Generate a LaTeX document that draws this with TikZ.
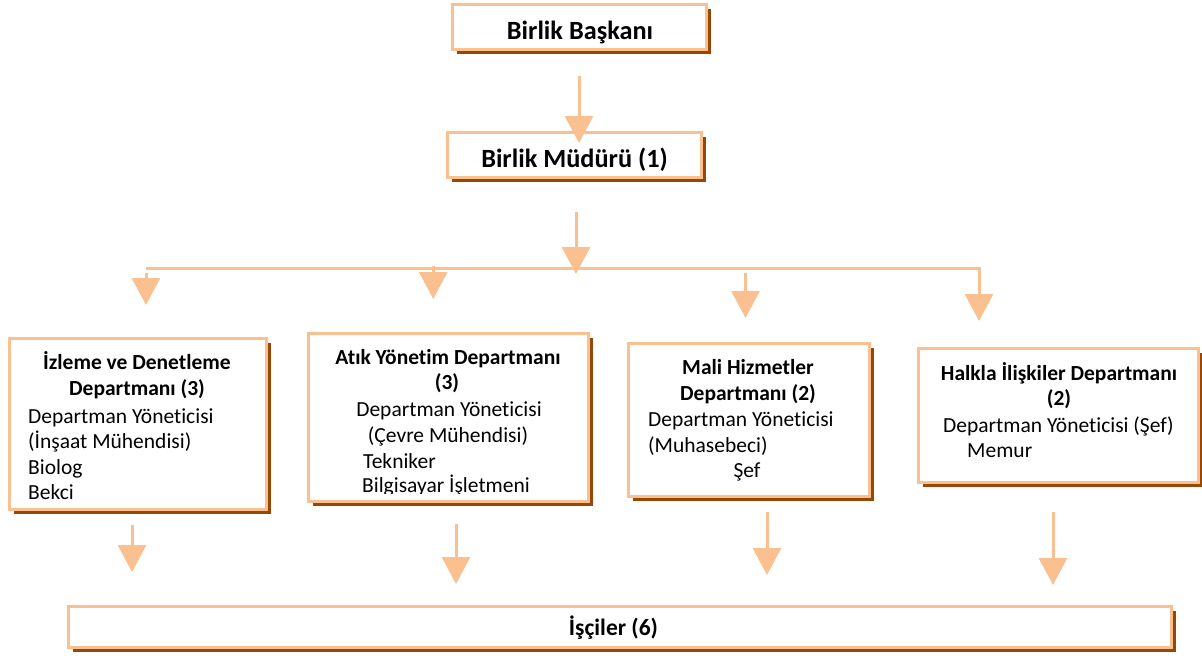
\documentclass[tikz,border=0pt]{standalone}
\usepackage{fontspec}
\setmainfont{Carlito}[Ligatures=NoCommon]
\usetikzlibrary{arrows.meta,shadows,calc}
\definecolor{peach}{HTML}{FAC090}
\definecolor{shbrown}{HTML}{984806}
\begin{document}
\begin{tikzpicture}[x=1pt, y=-1pt,
    box/.style={draw=peach, line width=3pt, fill=white, rectangle, inner sep=0pt, outer sep=0pt,
        general shadow={shadow xshift=4.5pt, shadow yshift=-4.5pt, fill=shbrown}},
    arr/.style={draw=peach, line width=3pt, -{Triangle[width=28pt, length=27pt]}},
    busline/.style={draw=peach, line width=3pt},
    headname/.style={font=\fontsize{26.3}{31}\selectfont\bfseries, inner sep=0pt, anchor=base},
    deptname/.style={font=\fontsize{21.5}{26}\selectfont\bfseries, inner sep=0pt, anchor=base},
    staff/.style={font=\fontsize{21.5}{26}\selectfont, inner sep=0pt, anchor=base west}]
    \useasboundingbox (0,0) rectangle (1202,659);

    % top of the chart
    \node[box, minimum width=254pt, minimum height=45pt] (baskan) at (579,26.5) {};
    \node[headname] at (580,39) {Birlik Başkanı};
    \node[box, minimum width=254pt, minimum height=45pt] (mudur) at (574,154.5) {};
    \node[headname] at (574.5,167) {Birlik Müdürü (1)};

    % departments
    \node[box, minimum width=257pt, minimum height=171pt] (izleme) at (137.5,423.5) {};
    \node[deptname] at (137,369) {İzleme ve Denetleme};
    \node[deptname] at (137,395) {Departmanı (3)};
    \node[staff] at (28,423) {Departman Yöneticisi};
    \node[staff] at (28,448) {(İnşaat Mühendisi)};
    \node[staff] at (28,474) {Biolog};
    \node[staff] at (28,499) {Bekci};

    \node[box, minimum width=280pt, minimum height=168pt] (atik) at (448,417) {};
    \node[deptname] at (448,364) {Atık Yönetim Departmanı};
    \node[deptname] at (447,389) {(3)};
    \node[staff, anchor=base] at (449,416) {Departman Yöneticisi};
    \node[staff, anchor=base] at (448,442) {(Çevre Mühendisi)};
    \node[staff] at (363,468) {Tekniker};
    \begin{scope}
        \clip (308,333) rectangle (588,493);
        \node[staff] at (362,492) {Bilgisayar İşletmeni};
    \end{scope}

    \node[box, minimum width=241pt, minimum height=153pt] (mali) at (748.5,419.5) {};
    \node[deptname] at (748,374) {Mali Hizmetler};
    \node[deptname] at (748,400) {Departmanı (2)};
    \node[staff] at (648,426) {Departman Yöneticisi};
    \node[staff] at (648,452) {(Muhasebeci)};
    \node[staff, anchor=base] at (747,477) {Şef};

    \node[box, minimum width=280pt, minimum height=134pt] (halkla) at (1058,415) {};
    \node[deptname] at (1059,380) {Halkla İlişkiler Departmanı};
    \node[deptname] at (1059,405) {(2)};
    \node[staff] at (943,432) {Departman Yöneticisi (Şef)};
    \node[staff] at (967,457) {Memur};

    % workers
    \node[box, minimum width=1103pt, minimum height=41pt] (isciler) at (619.5,626.5) {};
    \node[deptname, font=\fontsize{23.5}{28}\selectfont\bfseries] at (613.5,635) {İşçiler (6)};

    % connectors
    \coordinate (busL) at (146,268.5);
    \coordinate (busR) at (981,268.5);
    \draw[busline] (busL) -- (busR);
    \draw[arr] ($(baskan.south)+(0,27)$) -- ++(0,67);
    \draw[arr] ($(mudur.south)+(2,35)$) -- ++(0,62);
    \draw[arr] ($(busL)+(0,4.5)$) -- ++(0,32);
    \draw[arr] ($(busL)!0.344!(busR)+(0,-2.5)$) -- ++(0,33);
    \draw[arr] ($(busL)!0.718!(busR)+(0,4.5)$) -- ++(0,45);
    \draw[arr] ($(busR)+(-2,0)$) -- ++(0,52.5);
    \draw[arr] ($(izleme.south)+(-5.5,16)$) -- ++(0,47);
    \draw[arr] ($(atik.south)+(8,23)$) -- ++(0,60);
    \draw[arr] ($(mali.south)+(18.5,16)$) -- ++(0,63);
    \draw[arr] ($(halkla.south)+(-5,30)$) -- ++(0,73);
\end{tikzpicture}
\end{document}
